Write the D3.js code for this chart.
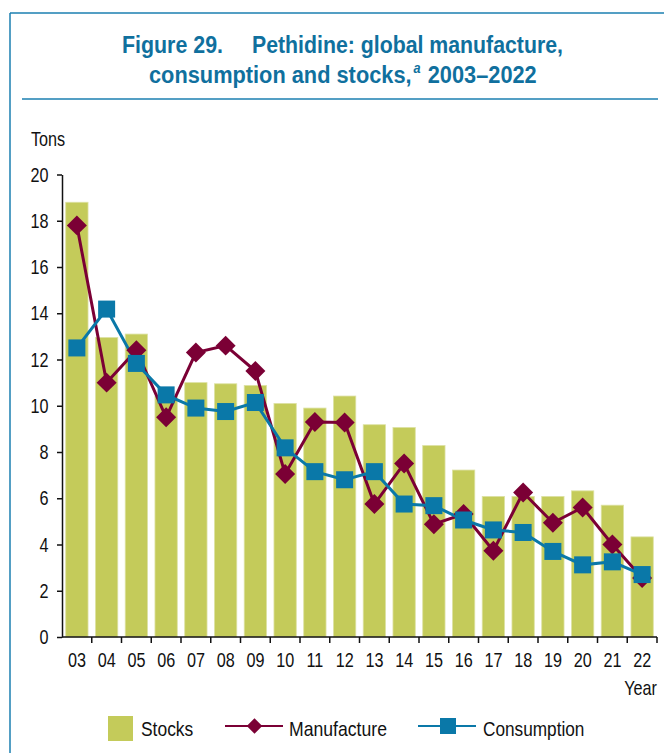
<html>
<head>
<meta charset="utf-8">
<style>
    body { margin: 0; background: #fff; }
    text { font-family: "Liberation Sans", Arial, sans-serif; fill: #111; }
    .title { font-weight: bold; fill: #10709e; font-size: 24px; }
    .axis text { font-size: 20.5px; fill: #111; }
    .axis path, .axis line { stroke: #111; stroke-width: 1.5; }
</style>
<script src="https://cdn.jsdelivr.net/npm/d3@7"></script>
</head>
<body>
<svg id="chart"></svg>
<script>
    // ----- data (tons)
    let years = ['03','04','05','06','07','08','09','10','11','12','13','14','15','16','17','18','19','20','21','22'];
    let stocks = [18.8, 12.95, 13.1, 10.4, 11.0, 10.95, 10.88, 10.1, 9.9, 10.42, 9.18, 9.06, 8.28, 7.22, 6.08, 6.08, 6.08, 6.32, 5.7, 4.33];
    let manufacture = [17.8, 11.0, 12.4, 9.5, 12.3, 12.6, 11.5, 7.05, 9.3, 9.28, 5.75, 7.5, 4.88, 5.32, 3.73, 6.25, 4.94, 5.6, 4.0, 2.55];
    let consumption = [12.5, 14.18, 11.83, 10.47, 9.9, 9.75, 10.14, 8.18, 7.15, 6.8, 7.15, 5.75, 5.68, 5.06, 4.63, 4.52, 3.7, 3.12, 3.25, 2.7];
    let yTicks = [0, 2, 4, 6, 8, 10, 12, 14, 16, 18, 20];

    let colors = { stocks: '#c4cb5a', manufacture: '#7b0035', consumption: '#0a78a8', frame: '#1b7fb0' };

    let width = 664, height = 753;
    let margin = { top: 174.5, left: 62, right: 7, bottom: 116 };
    let narrow = 0.79; // the original uses a condensed face
    let svg = d3.select('#chart').attr('width', width).attr('height', height);

    // frame + title rule
    svg.append('line').attr('x1', 10).attr('x2', 10).attr('y1', 13).attr('y2', height)
        .attr('stroke', colors.frame).attr('stroke-width', 1.5);
    svg.append('line').attr('x1', 10).attr('x2', width).attr('y1', 13).attr('y2', 13)
        .attr('stroke', colors.frame).attr('stroke-width', 1.5);
    svg.append('line').attr('x1', 22).attr('x2', 658).attr('y1', 99).attr('y2', 99)
        .attr('stroke', colors.frame).attr('stroke-width', 1.5);

    // title line 1: two pieces squeezed to their width in the original
    let titleParts = [
        { t: 'Figure 29.', x: 122, y: 53, w: 101 },
        { t: 'Pethidine: global manufacture,', x: 252, y: 53, w: 311 }
    ];
    svg.append('g').selectAll('text').data(titleParts).enter().append('text')
        .attr('class', 'title')
        .attr('x', d => d.x).attr('y', d => d.y)
        .attr('textLength', d => d.w).attr('lengthAdjust', 'spacingAndGlyphs')
        .text(d => d.t);

    // title line 2 with the superscript, squeezed as a whole
    let t2 = svg.append('text').attr('class', 'title');
    t2.append('tspan').text('consumption and stocks,');
    t2.append('tspan').attr('dy', -10).attr('dx', 2).style('font-size', '14px').style('font-style', 'italic').text('a');
    t2.append('tspan').attr('dy', 10).attr('dx', 8).text('2003\u20132022');
    let w2 = t2.node().getBBox().width;
    t2.attr('transform', `translate(149,83) scale(${388 / w2},1)`);

    // scales
    let xScale = d3.scaleBand().domain(years)
        .range([margin.left, width - margin.right])
        .paddingInner(0.25).paddingOuter(0.125);
    let xEdges = d3.scaleBand().domain(years).range([margin.left, width - margin.right]);
    let yScale = d3.scaleLinear().domain([0, 20]).range([height - margin.bottom, margin.top]);

    // bars
    svg.append('g').selectAll('rect').data(years).enter().append('rect')
        .attr('x', d => xScale(d))
        .attr('width', xScale.bandwidth())
        .attr('y', (d, i) => yScale(stocks[i]))
        .attr('height', (d, i) => yScale(0) - yScale(stocks[i]))
        .attr('fill', colors.stocks)
        .attr('stroke', '#dde2a4').attr('stroke-width', 0.8);

    // axes
    let axisY = d3.axisLeft(yScale).tickValues(yTicks).tickSize(5).tickPadding(9).tickSizeOuter(0);
    let gy = svg.append('g').attr('class', 'axis').attr('transform', `translate(${margin.left},0)`).call(axisY);
    gy.selectAll('text').attr('x', -13.5 / narrow).attr('transform', `scale(${narrow},1)`);

    let axisX = d3.axisBottom(xEdges).tickSize(0).tickPadding(15);
    let gx = svg.append('g').attr('class', 'axis').attr('transform', `translate(0,${yScale(0)})`).call(axisX);
    gx.select('.domain').attr('d', `M${margin.left},0H${width - margin.right}`);
    gx.selectAll('text').attr('transform', `scale(${narrow},1)`);
    // tick marks sit between the years
    gx.selectAll('.sep').data(years).enter().append('line')
        .attr('x1', d => xEdges(d) + xEdges.bandwidth())
        .attr('x2', d => xEdges(d) + xEdges.bandwidth())
        .attr('y1', 0).attr('y2', 6);

    svg.append('text').attr('transform', `translate(31,146) scale(${narrow},1)`).attr('font-size', 20.5).text('Tons');
    svg.append('text').attr('transform', `translate(657,695) scale(${narrow},1)`).attr('font-size', 20.5)
        .attr('text-anchor', 'end').text('Year');

    // lines
    let cx = d => xEdges(d) + xEdges.bandwidth() / 2;
    let line = vals => d3.line().x((d, i) => cx(years[i])).y(d => yScale(d))(vals);

    svg.append('path').attr('d', line(manufacture)).attr('fill', 'none')
        .attr('stroke', colors.manufacture).attr('stroke-width', 3);
    svg.append('path').attr('d', line(consumption)).attr('fill', 'none')
        .attr('stroke', colors.consumption).attr('stroke-width', 3);

    let diamond = d3.symbol().type(d3.symbolSquare).size(200);
    svg.append('g').selectAll('path').data(manufacture).enter().append('path')
        .attr('d', diamond)
        .attr('transform', (d, i) => `translate(${cx(years[i])},${yScale(d)}) rotate(45)`)
        .attr('fill', colors.manufacture);

    svg.append('g').selectAll('rect').data(consumption).enter().append('rect')
        .attr('x', (d, i) => cx(years[i]) - 8.5)
        .attr('y', d => yScale(d) - 8.5)
        .attr('width', 17).attr('height', 17)
        .attr('fill', colors.consumption);

    // legend
    let lg = svg.append('g').attr('transform', 'translate(0,728)');
    lg.append('rect').attr('x', 108).attr('y', -12).attr('width', 25).attr('height', 25).attr('fill', colors.stocks);
    lg.append('text').attr('transform', 'translate(141,8) scale(0.85,1)').attr('font-size', 20.5).text('Stocks');

    lg.append('line').attr('x1', 225).attr('x2', 283).attr('y1', -2).attr('y2', -2)
        .attr('stroke', colors.manufacture).attr('stroke-width', 2.2);
    lg.append('path').attr('d', d3.symbol().type(d3.symbolSquare).size(120))
        .attr('transform', 'translate(254.5,-2) rotate(45)').attr('fill', colors.manufacture);
    lg.append('text').attr('transform', 'translate(289,8) scale(0.86,1)').attr('font-size', 20.5).text('Manufacture');

    lg.append('line').attr('x1', 418).attr('x2', 476).attr('y1', -2).attr('y2', -2)
        .attr('stroke', colors.consumption).attr('stroke-width', 2.2);
    lg.append('rect').attr('x', 440).attr('y', -10).attr('width', 16).attr('height', 16).attr('fill', colors.consumption);
    lg.append('text').attr('transform', 'translate(483,8) scale(0.84,1)').attr('font-size', 20.5).text('Consumption');
</script>
</body>
</html>
